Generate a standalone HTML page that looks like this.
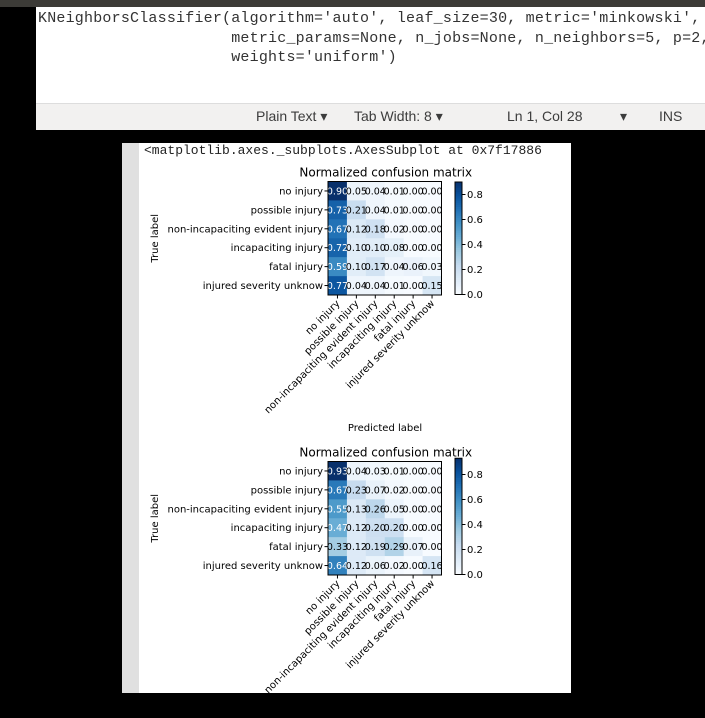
<!DOCTYPE html>
<html><head><meta charset="utf-8"><style>
body{margin:0;width:705px;height:718px;background:#000;overflow:hidden;position:relative;font-family:"DejaVu Sans","Liberation Sans",sans-serif}
#editor{position:absolute;left:36px;top:7px;width:669px;height:96px;background:#fff}
#code{position:absolute;left:2px;top:2px;margin:0;font-family:"Liberation Mono",monospace;font-size:15px;line-height:19.5px;letter-spacing:0.2px;color:#333;white-space:pre}
#status{position:absolute;left:36px;top:103px;width:669px;height:26px;background:#f2f1f0;border-top:1px solid #ddd;font-family:"Liberation Sans",sans-serif;font-size:14px;color:#3c3c3c}
#status span{position:absolute;top:4px}
#topbar{position:absolute;left:0;top:0;width:705px;height:7px;background:#3c3b37}
#panel{position:absolute;left:122px;top:143px;width:449px;height:550px;background:#fff;overflow:hidden}
#gutter{position:absolute;left:0;top:0;width:17px;height:550px;background:#e0e0e0}
#out{position:absolute;left:22px;top:0px;font-family:"Liberation Mono",monospace;font-size:13px;color:#222;white-space:pre}
svg{position:absolute;left:0;top:0}
</style></head><body>
<div id="topbar"></div>
<div id="editor"><pre id="code">KNeighborsClassifier(algorithm='auto', leaf_size=30, metric='minkowski',
                     metric_params=None, n_jobs=None, n_neighbors=5, p=2,
                     weights='uniform')</pre></div>
<div id="status">
<span style="left:220px">Plain Text ▾</span>
<span style="left:318px">Tab Width: 8 ▾</span>
<span style="left:471px">Ln 1, Col 28</span>
<span style="left:584px">▾</span>
<span style="left:623px">INS</span>
</div>
<div id="panel">
<div id="gutter"></div>
<div id="out">&lt;matplotlib.axes._subplots.AxesSubplot at 0x7f17886</div>
</div>
<svg id="chart" width="705" height="718"></svg>
<script>
const classes=["no injury","possible injury","non-incapaciting evident injury","incapaciting injury","fatal injury","injured severity unknow"];
const matrixA=[[0.90,0.05,0.04,0.01,0.00,0.00],[0.73,0.21,0.04,0.01,0.00,0.00],[0.67,0.12,0.18,0.02,0.00,0.00],[0.72,0.10,0.10,0.08,0.00,0.00],[0.59,0.10,0.17,0.04,0.06,0.03],[0.77,0.04,0.04,0.01,0.00,0.15]];
const matrixB=[[0.93,0.04,0.03,0.01,0.00,0.00],[0.67,0.23,0.07,0.02,0.00,0.00],[0.55,0.13,0.26,0.05,0.00,0.00],[0.47,0.12,0.20,0.20,0.00,0.00],[0.33,0.12,0.19,0.29,0.07,0.00],[0.64,0.12,0.06,0.02,0.00,0.16]];
const cbTicks=[0.0,0.2,0.4,0.6,0.8];
const NS="http://www.w3.org/2000/svg";
const svg=document.getElementById('chart');
const stops=["#f7fbff","#deebf7","#c6dbef","#9ecae1","#6baed6","#4292c6","#2171b5","#08519c","#08306b"];
function hex(h){return[1,3,5].map(i=>parseInt(h.substr(i,2),16));}
function blues(t){t=Math.max(0,Math.min(1,t));const p=t*8,i=Math.min(7,Math.floor(p)),f=p-i;const a=hex(stops[i]),b=hex(stops[i+1]);return`rgb(${a.map((v,k)=>Math.round(v+(b[k]-v)*f)).join(',')})`;}
function el(tag,attrs,parent){const e=document.createElementNS(NS,tag);for(const k in attrs)e.setAttribute(k,attrs[k]);(parent||svg).appendChild(e);return e;}
function txt(s,attrs,parent){const e=el('text',attrs,parent);e.textContent=s;return e;}
function drawMatrix(m,top,key){
  const g=el('g',{});
  
  
  const left=328,size=113.5,n=classes.length,cs=size/n;
  const vmax=Math.max(...m.flat());
  const xS=j=>left+j*cs, yS=i=>top+i*cs;
  const t=txt('Normalized confusion matrix',{x:left+size/2+1,y:top-5,'font-size':12,'text-anchor':'middle',fill:'#000'},g);
  
  
  m.forEach((row,i)=>row.forEach((v,j)=>{
    const r=el('rect',{x:xS(j),y:yS(i),width:cs+0.3,height:cs+0.3,fill:blues(v/vmax)},g);
    
    
    const c=txt(v.toFixed(2),{x:xS(j)+cs/2,y:yS(i)+cs/2+3.5,'font-size':9.5,'text-anchor':'middle',fill:v>vmax/2?'#fff':'#000'},g);
    
    
  }));
  el('rect',{x:left,y:top,width:size,height:size,fill:'none',stroke:'#000','stroke-width':1},g);
  classes.forEach((c,i)=>{
    const y=yS(i)+cs/2;
    el('line',{x1:left-3.5,x2:left,y1:y,y2:y,stroke:'#000'},g);
    const l=txt(c,{x:left-5,y:y+3.5,'font-size':10,'text-anchor':'end',fill:'#000'},g);
    
    
    const x=xS(i)+cs/2;
    el('line',{x1:x,x2:x,y1:top+size,y2:top+size+3.5,stroke:'#000'},g);
    const xl=txt(c,{x:x+3,y:top+size+9,'font-size':10,'text-anchor':'end',fill:'#000',transform:`rotate(-45 ${x+3} ${top+size+9})`},g);
    
    
  });
  const yl=txt('True label',{x:158,y:top+size/2,'font-size':10,'text-anchor':'middle',fill:'#000',transform:`rotate(-90 158 ${top+size/2})`},g);
  
  
  const cbx=455,cbw=7,zeroY=top+size-0.5,scale=125;
  const cbTop=zeroY-vmax*scale;
  for(let k=0;k<60;k++){
    const v0=vmax*k/60;
    el('rect',{x:cbx,y:zeroY-(v0+vmax/60)*scale,width:cbw,height:vmax/60*scale+0.5,fill:blues(v0/vmax)},g);
  }
  const cb=el('rect',{x:cbx,y:cbTop,width:cbw,height:zeroY-cbTop,fill:'none',stroke:'#000','stroke-width':1},g);
  
  
  cbTicks.forEach(v=>{
    const y=zeroY-v*scale;
    el('line',{x1:cbx+cbw,x2:cbx+cbw+3.5,y1:y,y2:y,stroke:'#000'},g);
    const tl=txt(v.toFixed(1),{x:cbx+cbw+5,y:y+3.5,'font-size':10,fill:'#000'},g);
    
    
  });
}
drawMatrix(matrixA,181.5,'top');
drawMatrix(matrixB,461.5,'bottom');
const pl=txt('Predicted label',{x:385,y:431,'font-size':10,'text-anchor':'middle',fill:'#000'});


el('rect',{x:0,y:693,width:705,height:25,fill:'#000'});
</script>
</body></html>
